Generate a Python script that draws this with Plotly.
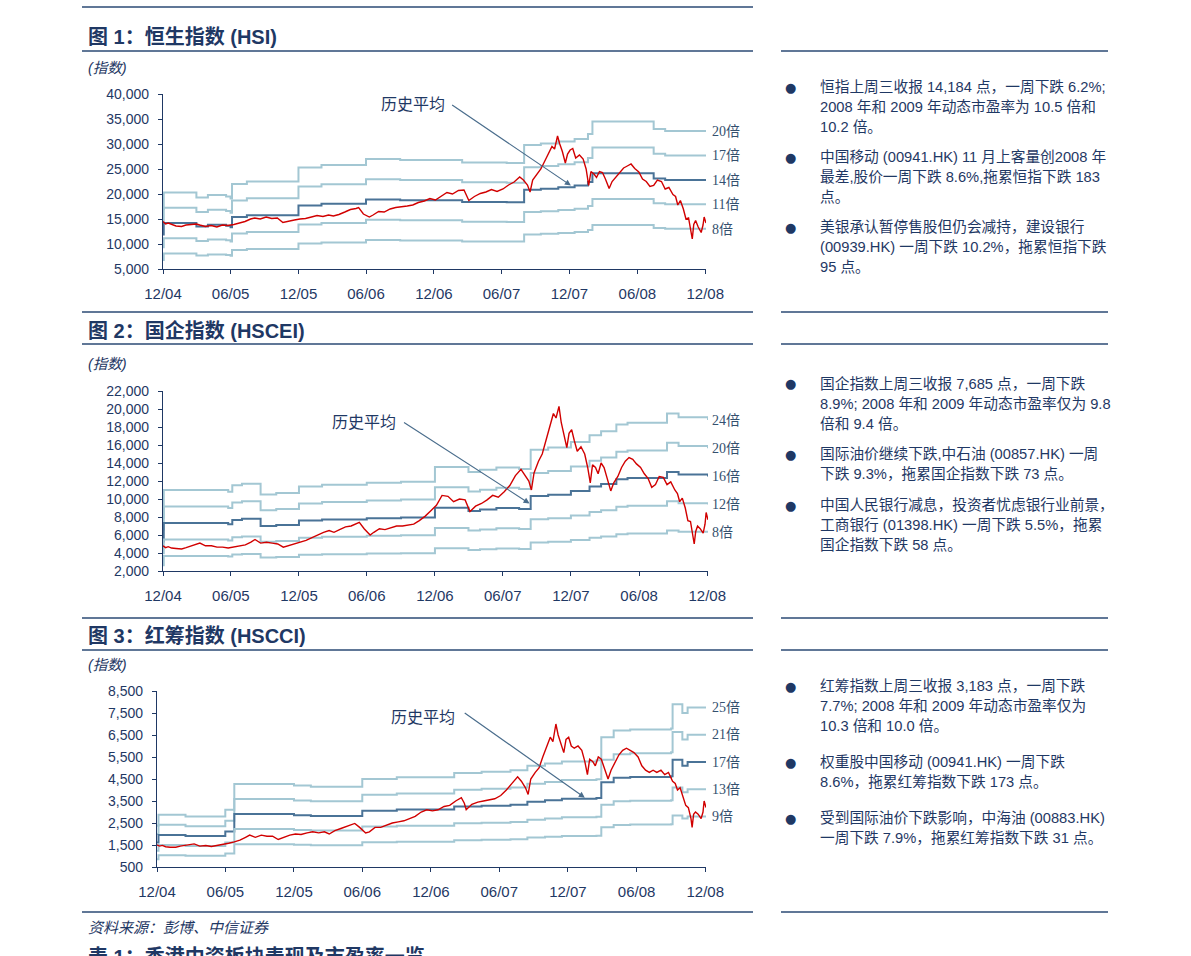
import plotly.graph_objects as go

W, H = 1191, 956
NAVY = "#1f3864"
RULE = "#2b4a75"
RED = "#d10000"
BAND_LIGHT = "#a3c7d3"
BAND_DARK = "#4a7397"
SANS = "Liberation Sans, Arial, Noto Sans CJK SC"
SERIF = "Liberation Serif, Noto Sans CJK SC"


def px_x(v):
    return v / W


def px_y(v):
    return 1 - v / H


# ---------------- data: index closes ----------------
index_dates = (
    ["2004-12-01", "2004-12-08", "2004-12-15", "2004-12-24"]
    + ["2005-" + d for d in ["01-05", "01-20", "02-01", "02-15", "03-01", "03-10", "03-25", "04-10", "04-25",
                             "05-10", "05-25", "06-10", "06-25", "07-10", "07-25", "08-05", "08-20", "09-05",
                             "09-20", "10-05", "10-20", "11-05", "11-20", "12-05", "12-20"]]
    + ["2006-" + d for d in ["01-05", "01-20", "02-05", "02-20", "03-05", "03-20", "04-05", "04-20", "05-05",
                             "05-12", "05-25", "06-10", "06-20", "07-05", "07-20", "08-05", "08-20", "09-05",
                             "09-20", "10-05", "10-20", "11-05", "11-20", "12-05", "12-20"]]
    + ["2007-" + d for d in ["01-05", "01-20", "02-05", "02-20", "02-28", "03-05", "03-20", "04-05", "04-20",
                             "05-05", "05-20", "06-05", "06-20", "07-05", "07-20", "07-30", "08-10", "08-17",
                             "08-24", "09-05", "09-15", "09-25", "10-05", "10-15", "10-22", "10-30", "11-05",
                             "11-12", "11-20", "11-26", "12-03", "12-10", "12-18", "12-28"]]
    + ["2008-" + d for d in ["01-07", "01-15", "01-22", "01-28", "02-05", "02-12", "02-20", "02-28", "03-07",
                             "03-17", "03-25", "04-05", "04-15", "04-25", "05-05", "05-15", "05-25", "06-05",
                             "06-15", "06-25", "07-05", "07-15", "07-25", "08-05", "08-15", "08-25", "09-05",
                             "09-12", "09-18", "09-25", "10-03", "10-10", "10-17", "10-24", "10-27", "10-31",
                             "11-05", "11-12", "11-20", "11-25", "11-28", "12-03"]]
)

hsi_close = [
    14500, 14000, 14200, 13900,
    13600, 13500, 13800, 13900, 14000, 13800, 13500, 13700, 13400, 13800, 13700, 13900, 14200,
    14500, 15000, 15200, 15000, 15400, 15100, 15200, 14300, 14600, 14800, 15000, 15100,
    15400, 15700, 15500, 15800, 15600, 15900, 16400, 16900, 17100, 17300, 16000, 15400, 15800,
    16500, 16400, 17000, 17300, 17400, 17600, 17800, 18300, 18600, 19100, 18800, 19500,
    20300, 20000, 20700, 20800, 19600, 18700, 19500, 20100, 20400, 20900, 20500, 21000, 21800,
    22400, 23400, 22800, 21800, 20400, 22800, 23900, 25000, 26500, 28000, 29500, 29000, 31600,
    30000, 28500, 26200, 28000, 28800, 29100, 27200, 27800,
    27000, 25000, 21700, 24500, 24000, 23300, 24500, 24300, 23000, 21100, 22500, 23500, 24300,
    25200, 25600, 26000, 25100, 24400, 23000, 22500, 21500, 21700, 22800, 22500, 21000, 21300,
    19900, 19500, 17800, 18700, 17000, 15000, 15200, 12600, 11000, 13900, 14700, 13400, 12300,
    13800, 15400, 14200,
]
hscei_close = [
    4800, 4600, 4700, 4550,
    4500, 4450, 4600, 4800, 5000, 5100, 4800, 4800, 4650, 4650, 4550, 4700, 4800,
    4900, 5200, 5500, 5100, 5200, 5100, 5000, 4650, 4850, 5000, 5200, 5400,
    5700, 6000, 6300, 6500, 6300, 6600, 6900, 7000, 7300, 7400, 6700, 6000, 6300,
    6700, 6600, 6800, 7000, 7000, 7100, 7200, 7600, 8100, 8700, 9300, 10400,
    10300, 9700, 10000, 9900, 9200, 8600, 9200, 9500, 9900, 10400, 10200, 10800, 11500,
    12600, 13300, 12700, 12000, 11000, 12900, 14200, 15000, 16500, 18000, 19500, 19000, 20300,
    18500, 17000, 15700, 17300, 17700, 16500, 15300, 15800,
    15000, 13500, 11800, 13800, 13500, 12800, 14000, 13500, 12200, 10900, 11800, 12500, 13500,
    14200, 14600, 14400, 13900, 13500, 12800, 12300, 11300, 11600, 12500, 12400, 11600, 11900,
    11000, 10600, 9700, 10100, 9000, 7600, 7500, 5900, 5000, 6400, 7000, 6700, 6200,
    7200, 8500, 7700,
]
hscci_close = [
    1500, 1450, 1480, 1420,
    1400, 1400, 1450, 1480, 1520, 1550, 1450, 1480, 1430, 1480, 1500, 1580, 1640,
    1720, 1850, 1950, 1850, 1950, 1900, 1900, 1750, 1850, 1950, 2000, 1980,
    2050, 2100, 2050, 2100, 2000, 2150, 2250, 2350, 2450, 2480, 2300, 2050, 2100,
    2300, 2300, 2400, 2500, 2550, 2600, 2700, 2800, 3000, 3100, 3050, 3100,
    3250, 3300, 3500, 3650, 3400, 3100, 3350, 3450, 3500, 3550, 3600, 3750, 4000,
    4300, 4600, 4400, 4100, 3800, 4500, 4800, 5000, 5500, 6000, 6400, 6200, 7000,
    6500, 6100, 5700, 6300, 6400, 6000, 5900, 6000,
    5800, 5300, 4700, 5400, 5300, 5100, 5500, 5400, 5000, 4500, 4900, 5300, 5600,
    5800, 5900, 5800, 5700, 5500, 5100, 4900, 4800, 4900, 4800, 4900, 4700, 4800,
    4400, 4300, 4000, 4100, 3700, 3300, 3200, 2700, 2300, 2900, 3000, 2900, 2700,
    3000, 3500, 3200,
]

# ---------------- data: earnings per index point (PE bands = multiple x EPS) ----------------
hsi_eps_dates = [
    "2004-12-01", "2004-12-03", "2005-03-01", "2005-04-01", "2005-05-20", "2005-06-01", "2005-06-05",
    "2005-07-15", "2005-12-01", "2006-02-01", "2006-06-01", "2006-09-01", "2007-02-15", "2007-06-15",
    "2007-08-01", "2007-09-15", "2007-11-01", "2007-12-15", "2008-01-20", "2008-02-01", "2008-07-15",
    "2008-08-15", "2008-12-03",
]
hsi_eps = [
    850, 1015, 965, 990, 975, 955, 1100,
    1125, 1265, 1290, 1350, 1340, 1315, 1310,
    1490, 1505, 1525, 1550, 1600, 1725, 1650,
    1630, 1625,
]
hsi_multiples = [20, 17, 14, 11, 8]
hsi_mid = 14

hscei_eps_dates = [
    "2004-12-01", "2004-12-03", "2005-05-25", "2005-06-05", "2005-07-01", "2005-08-20", "2005-10-01",
    "2005-12-01", "2006-02-01", "2006-06-01", "2006-09-01", "2006-12-01", "2007-03-01", "2007-04-01",
    "2007-05-15", "2007-07-15", "2007-08-15", "2007-10-01", "2007-12-01", "2008-01-20", "2008-02-20",
    "2008-04-01", "2008-05-01", "2008-08-15", "2008-09-15", "2008-12-03",
]
hscei_eps = [
    330, 458, 450, 480, 487, 437, 445,
    475, 483, 492, 497, 565, 542, 552,
    562, 555, 645, 655, 680, 712, 730,
    762, 770, 812, 795, 782,
]
hscei_multiples = [24, 20, 16, 12, 8]
hscei_mid = 16

hscci_eps_dates = [
    "2004-12-01", "2004-12-05", "2005-02-15", "2005-06-01", "2005-06-25", "2005-12-01", "2006-01-15",
    "2006-06-01", "2006-09-01", "2007-02-01", "2007-04-15", "2007-07-01", "2007-08-15", "2007-10-01",
    "2007-11-15", "2008-02-15", "2008-02-28", "2008-04-01", "2008-05-15", "2008-09-01", "2008-09-05",
    "2008-10-01", "2008-10-15", "2008-12-03",
]
hscci_eps = [
    95, 115, 112, 124, 171, 168, 166,
    180, 183, 191, 193, 196, 204, 208,
    212, 214, 256, 268, 270, 272, 316,
    300, 310, 310,
]
hscci_multiples = [25, 21, 17, 13, 9]
hscci_mid = 17

assert len(index_dates) == len(hsi_close) == len(hscei_close) == len(hscci_close)

# ---------------- text ----------------
hsi_notes = [
    ["恒指上周三收报 14,184 点，一周下跌 6.2%;", "2008 年和 2009 年动态市盈率为 10.5 倍和", "10.2 倍。"],
    ["中国移动 (00941.HK) 11 月上客量创2008 年", "最差,股价一周下跌 8.6%,拖累恒指下跌 183", "点。"],
    ["美银承认暂停售股但仍会减持，建设银行", "(00939.HK) 一周下跌 10.2%，拖累恒指下跌", "95 点。"],
]
hscei_notes = [
    ["国企指数上周三收报 7,685 点，一周下跌", "8.9%; 2008 年和 2009 年动态市盈率仅为 9.8", "倍和 9.4 倍。"],
    ["国际油价继续下跌,中石油 (00857.HK) 一周", "下跌 9.3%，拖累国企指数下跌 73 点。"],
    ["中国人民银行减息，投资者忧虑银行业前景，", "工商银行 (01398.HK) 一周下跌 5.5%，拖累", "国企指数下跌 58 点。"],
]
hscci_notes = [
    ["红筹指数上周三收报 3,183 点，一周下跌", "7.7%; 2008 年和 2009 年动态市盈率仅为", "10.3 倍和 10.0 倍。"],
    ["权重股中国移动 (00941.HK) 一周下跌", "8.6%，拖累红筹指数下跌 173 点。"],
    ["受到国际油价下跌影响，中海油 (00883.HK)", "一周下跌 7.9%，拖累红筹指数下跌 31 点。"],
]

charts = [
    dict(title="图 1：恒生指数 (HSI)", close_y=hsi_close,
         eps_x=hsi_eps_dates, eps_y=hsi_eps, mults=hsi_multiples, mid=hsi_mid,
         yrange=[5000, 40000], dtick=5000, xdom=(163, 706), ydom=(269, 94),
         title_y=37, unit_y=68, rule_top=51,
         arrow=("2007-12-05", 21700, "2007-01-15", 38000), arrow_text=("2006-10-05", 38300),
         notes=hsi_notes, note_y=[87, 157, 227]),
    dict(title="图 2：国企指数 (HSCEI)", close_y=hscei_close,
         eps_x=hscei_eps_dates, eps_y=hscei_eps, mults=hscei_multiples, mid=hscei_mid,
         yrange=[2000, 22000], dtick=2000, xdom=(163, 708), ydom=(571, 391),
         title_y=330, unit_y=364, rule_top=344,
         arrow=("2007-08-12", 9500, "2006-09-05", 18600), arrow_text=("2006-05-25", 18700),
         notes=hscei_notes, note_y=[384, 454, 505]),
    dict(title="图 3：红筹指数 (HSCCI)", close_y=hscci_close,
         eps_x=hscci_eps_dates, eps_y=hscci_eps, mults=hscci_multiples, mid=hscci_mid,
         yrange=[500, 8500], dtick=1000, xdom=(157, 706), ydom=(867, 691),
         title_y=636, unit_y=665, rule_top=650,
         arrow=("2008-01-15", 3650, "2007-02-25", 7550), arrow_text=("2006-11-10", 7350),
         notes=hscci_notes, note_y=[686, 762, 818]),
]

fig = go.Figure()
annotations = []
shapes = []
layout_axes = {}


def note(text, x, y, size=14, color=NAVY, family=SANS, xanchor="left"):
    annotations.append(dict(text=text, x=px_x(x), y=px_y(y), xref="paper", yref="paper",
                            xanchor=xanchor, yanchor="middle", showarrow=False,
                            font=dict(size=size, color=color, family=family)))


def rule(x0, x1, y):
    shapes.append(dict(type="line", xref="paper", yref="paper", x0=px_x(x0), x1=px_x(x1),
                       y0=px_y(y), y1=px_y(y), line=dict(color=RULE, width=1.6)))


for i, c in enumerate(charts, start=1):
    xa = "x" if i == 1 else f"x{i}"
    ya = "y" if i == 1 else f"y{i}"

    # PE bands
    for m in c["mults"]:
        fig.add_trace(go.Scatter(
            x=c["eps_x"], y=[m * e for e in c["eps_y"]], mode="lines", line_shape="hv",
            line=dict(color=BAND_DARK if m == c["mid"] else BAND_LIGHT, width=2),
            xaxis=xa, yaxis=ya, hoverinfo="skip"))
        annotations.append(dict(text=f"{m}倍", x=px_x(710), y=m * c["eps_y"][-1],
                                xref="paper", yref=ya, xanchor="left", yanchor="middle",
                                showarrow=False, font=dict(size=14, color="#34506e", family=SERIF)))

    # index line
    fig.add_trace(go.Scatter(x=index_dates, y=c["close_y"], mode="lines",
                             line=dict(color=RED, width=1.4), xaxis=xa, yaxis=ya))

    # arrow + label
    hx, hy, tx, ty = c["arrow"]
    annotations.append(dict(x=hx, y=hy, ax=tx, ay=ty, xref=xa, yref=ya, axref=xa, ayref=ya,
                            text="", showarrow=True, arrowhead=2, arrowsize=1, arrowwidth=1.2,
                            arrowcolor="#4a6d8c"))
    annotations.append(dict(x=c["arrow_text"][0], y=c["arrow_text"][1], xref=xa, yref=ya,
                            text="历史平均", showarrow=False,
                            font=dict(size=16, color=NAVY, family="Noto Sans CJK SC")))

    layout_axes["xaxis" if i == 1 else f"xaxis{i}"] = dict(
        domain=[px_x(c["xdom"][0]), px_x(c["xdom"][1])], anchor=ya, type="date",
        range=["2004-12-01", "2008-12-03"], tick0="2004-12-01", dtick="M6", tickformat="%m/%y",
        showgrid=False, zeroline=False, showline=True, linecolor=NAVY, linewidth=1.2,
        ticks="outside", ticklen=4, tickcolor=NAVY, tickfont=dict(size=15, color=NAVY, family=SANS),
        ticklabelstandoff=7, automargin=False)
    layout_axes["yaxis" if i == 1 else f"yaxis{i}"] = dict(
        domain=[px_y(c["ydom"][0]), px_y(c["ydom"][1])], anchor=xa, range=c["yrange"],
        tick0=c["yrange"][0], dtick=c["dtick"], tickformat=",", showgrid=False, zeroline=False,
        showline=True, linecolor=NAVY, linewidth=1.2, ticks="outside", ticklen=4, tickcolor=NAVY,
        tickfont=dict(size=14, color=NAVY, family=SANS), ticklabelstandoff=6, automargin=False)

    # page furniture
    note(f"<b>{c['title']}</b>", 86, c["title_y"], size=20)
    note("<i>(指数)</i>", 86, c["unit_y"], size=14.5)
    rule(82, 753, c["rule_top"])
    rule(781, 1108, c["rule_top"])
    for lines, y0 in zip(c["notes"], c["note_y"]):
        note("●", 790, y0, size=13, xanchor="center", family="DejaVu Sans")
        for k, line in enumerate(lines):
            note(line, 818, y0 + k * 19.8, size=14.7)

# rules between sections
rule(82, 753, 7)
for y in (312, 618, 912):
    rule(82, 753, y)
    rule(781, 1108, y)

note("<i>资料来源：彭博、中信证券</i>", 86, 927, size=15)
note("<b>表 1：香港中资板块表现及市盈率一览</b>", 86, 956, size=20)

fig.update_layout(
    width=W, height=H, margin=dict(l=0, r=0, t=0, b=0, pad=0), autosize=False,
    paper_bgcolor="white", plot_bgcolor="white", showlegend=False,
    annotations=annotations, shapes=shapes, **layout_axes)

fig.write_html("out.html", config={"displayModeBar": False},
               post_script="document.body.style.margin='0';document.body.style.overflow='hidden';")
